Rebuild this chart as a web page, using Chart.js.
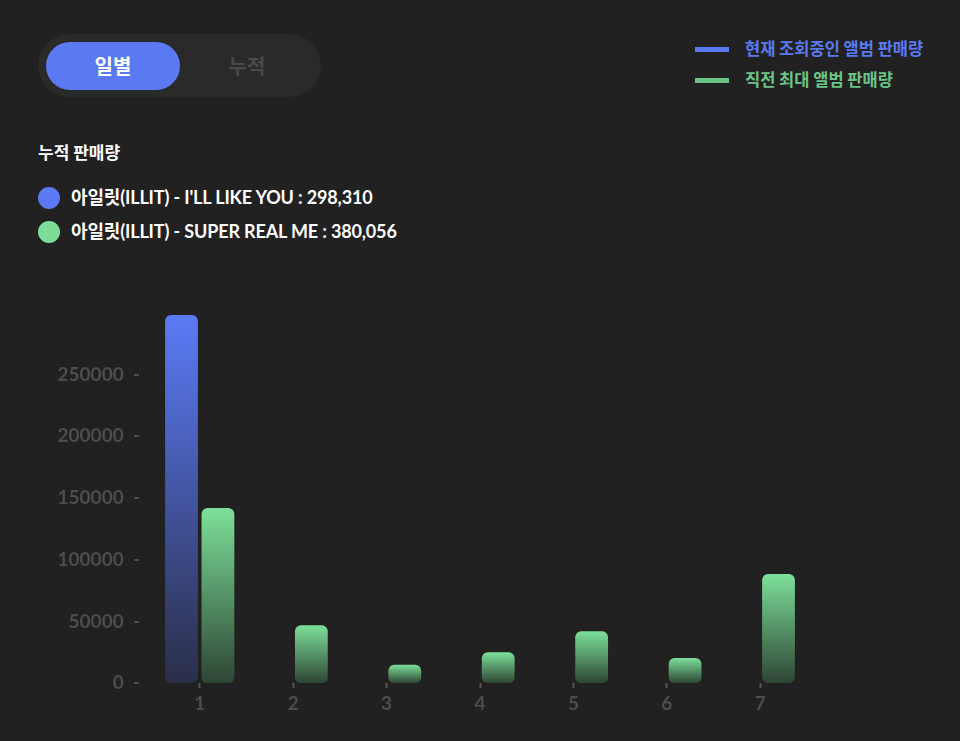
<!DOCTYPE html>
<html><head><meta charset="utf-8">
<script src="https://cdn.jsdelivr.net/npm/chart.js@4.4.1/dist/chart.umd.min.js"></script>
<style>
html,body{margin:0;padding:0;background:#212121;width:960px;height:741px;overflow:hidden;font-family:"Lato","Noto Sans CJK KR",sans-serif;}
.abs{position:absolute;}
#toggle{left:38px;top:34px;width:283px;height:63px;border-radius:32px;background:#2a2a2a;}
#tOn{left:8px;top:8px;width:134px;height:48px;border-radius:24px;background:#5a79f2;color:#fff;font-weight:700;font-size:20px;line-height:48px;text-align:center;font-family:"Noto Sans CJK KR";}
#tOff{left:172px;top:8px;width:74px;height:48px;color:#4a4a4a;font-weight:700;font-size:20px;line-height:48px;text-align:center;font-family:"Noto Sans CJK KR";}
.lg{left:695px;width:260px;height:20px;font-weight:700;font-size:16.5px;line-height:20px;font-family:"Noto Sans CJK KR";}
.lg i{position:absolute;left:0;top:8px;width:34px;height:5px;}
.lg span{position:absolute;left:50px;top:-1px;white-space:nowrap;}
#title{left:38px;top:140px;color:#fff;font-weight:700;font-size:17px;line-height:24px;font-family:"Noto Sans CJK KR";}
.row{left:38px;height:24px;color:#fff;font-weight:700;font-size:18px;line-height:24px;white-space:nowrap;letter-spacing:-0.15px;}
.row i{position:absolute;left:0;top:1px;width:22px;height:22px;border-radius:11px;}
.row span{position:absolute;left:33px;top:-1px;}
#wrap{left:0;top:280px;width:960px;height:461px;}
</style></head>
<body>
<div id="toggle" class="abs"><div id="tOn" class="abs">일별</div><div id="tOff" class="abs">누적</div></div>
<div id="lg1" class="abs lg" style="top:39px;color:#5a79f2"><i style="background:#5a79f2"></i><span id="lgt1"></span></div>
<div id="lg2" class="abs lg" style="top:70px;color:#6cc487"><i style="background:#6cc487"></i><span id="lgt2"></span></div>
<div id="title" class="abs">누적 판매량</div>
<div id="r1" class="abs row" style="top:186px"><i style="background:#5a79f2"></i><span id="rt1"></span></div>
<div id="r2" class="abs row" style="top:220px"><i style="background:#7ddc97"></i><span id="rt2"></span></div>
<div id="wrap" class="abs"><canvas id="c" width="960" height="461"></canvas></div>
<script>
const days = ["1","2","3","4","5","6","7"];
const seriesNames = ["현재 조회중인 앨범 판매량","직전 최대 앨범 판매량"];
const albumNames = ["아일릿(ILLIT) - I'LL LIKE YOU","아일릿(ILLIT) - SUPER REAL ME"];
const currentSales = [298310, null, null, null, null, null, null];
const previousSales = [142000, 47000, 15000, 25000, 42000, 20500, 88556];
const yTicks = [0, 50000, 100000, 150000, 200000, 250000];

const sum = a => a.reduce((s,v)=>s+(v||0),0);
document.getElementById('lgt1').textContent = seriesNames[0];
document.getElementById('lgt2').textContent = seriesNames[1];
document.getElementById('rt1').textContent = albumNames[0] + ' : ' + sum(currentSales).toLocaleString('en-US');
document.getElementById('rt2').textContent = albumNames[1] + ' : ' + sum(previousSales).toLocaleString('en-US');

function grad(top, bottom){
  return function(ctx){
    const chart = ctx.chart;
    const ca = chart.chartArea;
    if(!ca) return top;
    const v = ctx.parsed ? ctx.parsed.y : null;
    if(v == null) return top;
    const y0 = chart.scales.y.getPixelForValue(v);
    const y1 = chart.scales.y.getPixelForValue(0);
    const g = chart.ctx.createLinearGradient(0, y0, 0, y1);
    g.addColorStop(0, top);
    g.addColorStop(1, bottom);
    return g;
  };
}
const maxVal = Math.max(...currentSales.filter(v=>v!=null), ...previousSales);
new Chart(document.getElementById('c'), {
  type: 'bar',
  data: {
    labels: days,
    datasets: [
      {label: seriesNames[0], data: currentSales, backgroundColor: grad('#5b7bf7', '#2a2e48'), borderRadius: 6, borderSkipped: false},
      {label: seriesNames[1], data: previousSales, backgroundColor: grad('#7de09a', '#2e4534'), borderRadius: 6, borderSkipped: false}
    ]
  },
  options: {
    responsive: false,
    animation: false,
    layout: {padding: {left: 0, right: 153, top: 35, bottom: 22}},
    plugins: {legend: {display: false}, tooltip: {enabled: false}},
    datasets: {bar: {categoryPercentage: 0.78, barPercentage: 0.9}},
    scales: {
      x: {
        grid: {display: true, offset: false, drawOnChartArea: false, drawTicks: true, tickLength: 5, tickColor: '#555', tickWidth: 2},
        border: {display: false},
        ticks: {color: '#4d4d4d', padding: 4, font: {family: 'Lato', size: 19, weight: 'bold'}}
      },
      y: {
        min: 0, max: maxVal,
        afterFit: s => { s.width = 153; },
        afterBuildTicks: s => { s.ticks = yTicks.map(v => ({value: v})); },
        grid: {display: false, drawTicks: false},
        border: {display: false},
        ticks: {includeBounds: false, color: '#4d4d4d', padding: 13, font: {family: 'Lato', size: 19, weight: 'bold'},
          callback: v => v + '  -'}
      }
    }
  }
});
</script>
</body></html>
